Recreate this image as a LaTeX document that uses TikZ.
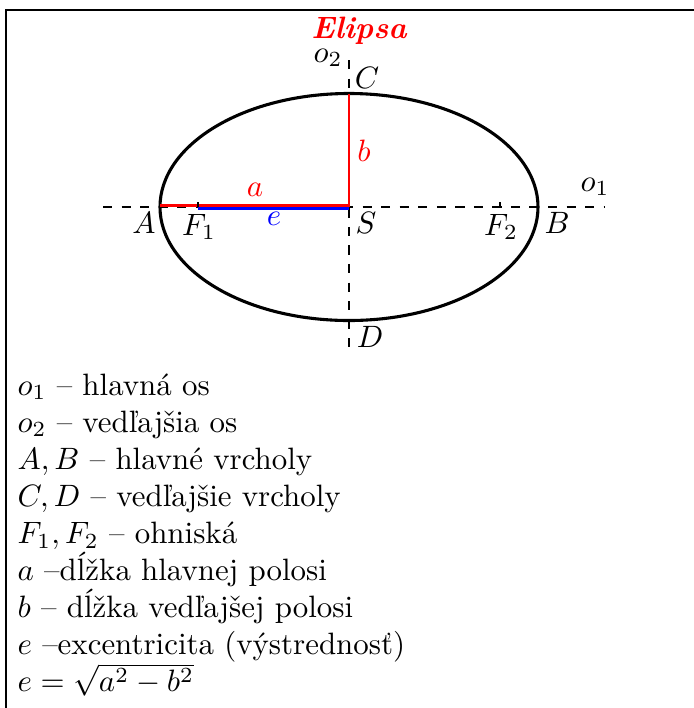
\documentclass[tikz,border=0pt]{standalone}
\usepackage{fontspec}
\begin{document}
\begin{tikzpicture}[x=0.3236pt, y=-0.3236pt,
  axis/.style={dashed, line width=0.4pt},
  lbl/.style={inner sep=0pt, anchor=center},
  legend/.style={inner sep=0pt, anchor=base west},
  seg/.style={line width=0.8pt}]
\useasboundingbox (0,0) rectangle (694,708);
% frame
\draw (6,708) -- (6,10) -- (694,10);
% points
\coordinate (S) at (349,207);
\coordinate (A) at (160,207);
\coordinate (B) at (538,207);
\coordinate (C) at (349,93.5);
\coordinate (D) at (349,320.5);
\coordinate (F1) at (198,207);
\coordinate (F2) at (500,207);
\coordinate (o1l) at (103,207);
\coordinate (o1r) at (605,207);
\coordinate (o2t) at (349,60);
\coordinate (o2b) at (349,355);
% axes
\draw[axis] (o1l) -- (o1r);
\draw[axis] (o2t) -- (o2b);
% ellipse
\draw[line width=1pt] (S) ellipse [x radius=61.16pt, y radius=36.73pt];
% a and b
\draw[seg, red] ([yshift=0.5pt]A) -- ([yshift=0.5pt]S) -- (C);
% e
\draw[seg, blue] ([yshift=-0.5pt]F1) -- ([yshift=-0.5pt]S);
% focus ticks
\draw ([yshift=1.6pt]F1) -- (F1);
\draw ([yshift=1.6pt]F2) -- (F2);
% labels
\node[lbl, red, font=\bfseries\itshape] (title) at (359,31) {Elipsa};
\node[lbl] (lo2) at (328,58) {$o_2$};
\node[lbl] (lC) at (367,78) {$C$};
\node[lbl, red] (lb) at (364,151) {$b$};
\node[lbl, red] (la) at (255,190) {$a$};
\node[lbl] (lo1) at (595,187) {$o_1$};
\node[lbl] (lA) at (144,223) {$A$};
\node[lbl] (lF1) at (199,227) {$F_1$};
\node[lbl, blue] (le) at (274,219) {$e$};
\node[lbl] (lS) at (366,223) {$S$};
\node[lbl] (lF2) at (501,227) {$F_2$};
\node[lbl] (lB) at (557,223) {$B$};
\node[lbl] (lD) at (370,337) {$D$};
% legend
\node[legend] (l1) at (17,395) {$o_1$ -- hlavná os};
\node[legend] (l2) at (17,432.1) {$o_2$ -- vedľajšia os};
\node[legend] (l3) at (17,469.2) {$A,B$ -- hlavné vrcholy};
\node[legend] (l4) at (17,506.3) {$C,D$ -- vedľajšie vrcholy};
\node[legend] (l5) at (17,543.4) {$F_1,F_2$ -- ohniská};
\node[legend] (l6) at (17,580.5) {$a$ --dĺžka hlavnej polosi};
\node[legend] (l7) at (17,617.6) {$b$ -- dĺžka vedľajšej polosi};
\node[legend] (l8) at (17,654.7) {$e$ --excentricita (výstrednosť)};
\node[legend] (l9) at (17,691.8) {$e=\sqrt{a^2-b^2}$};
\end{tikzpicture}
\end{document}
